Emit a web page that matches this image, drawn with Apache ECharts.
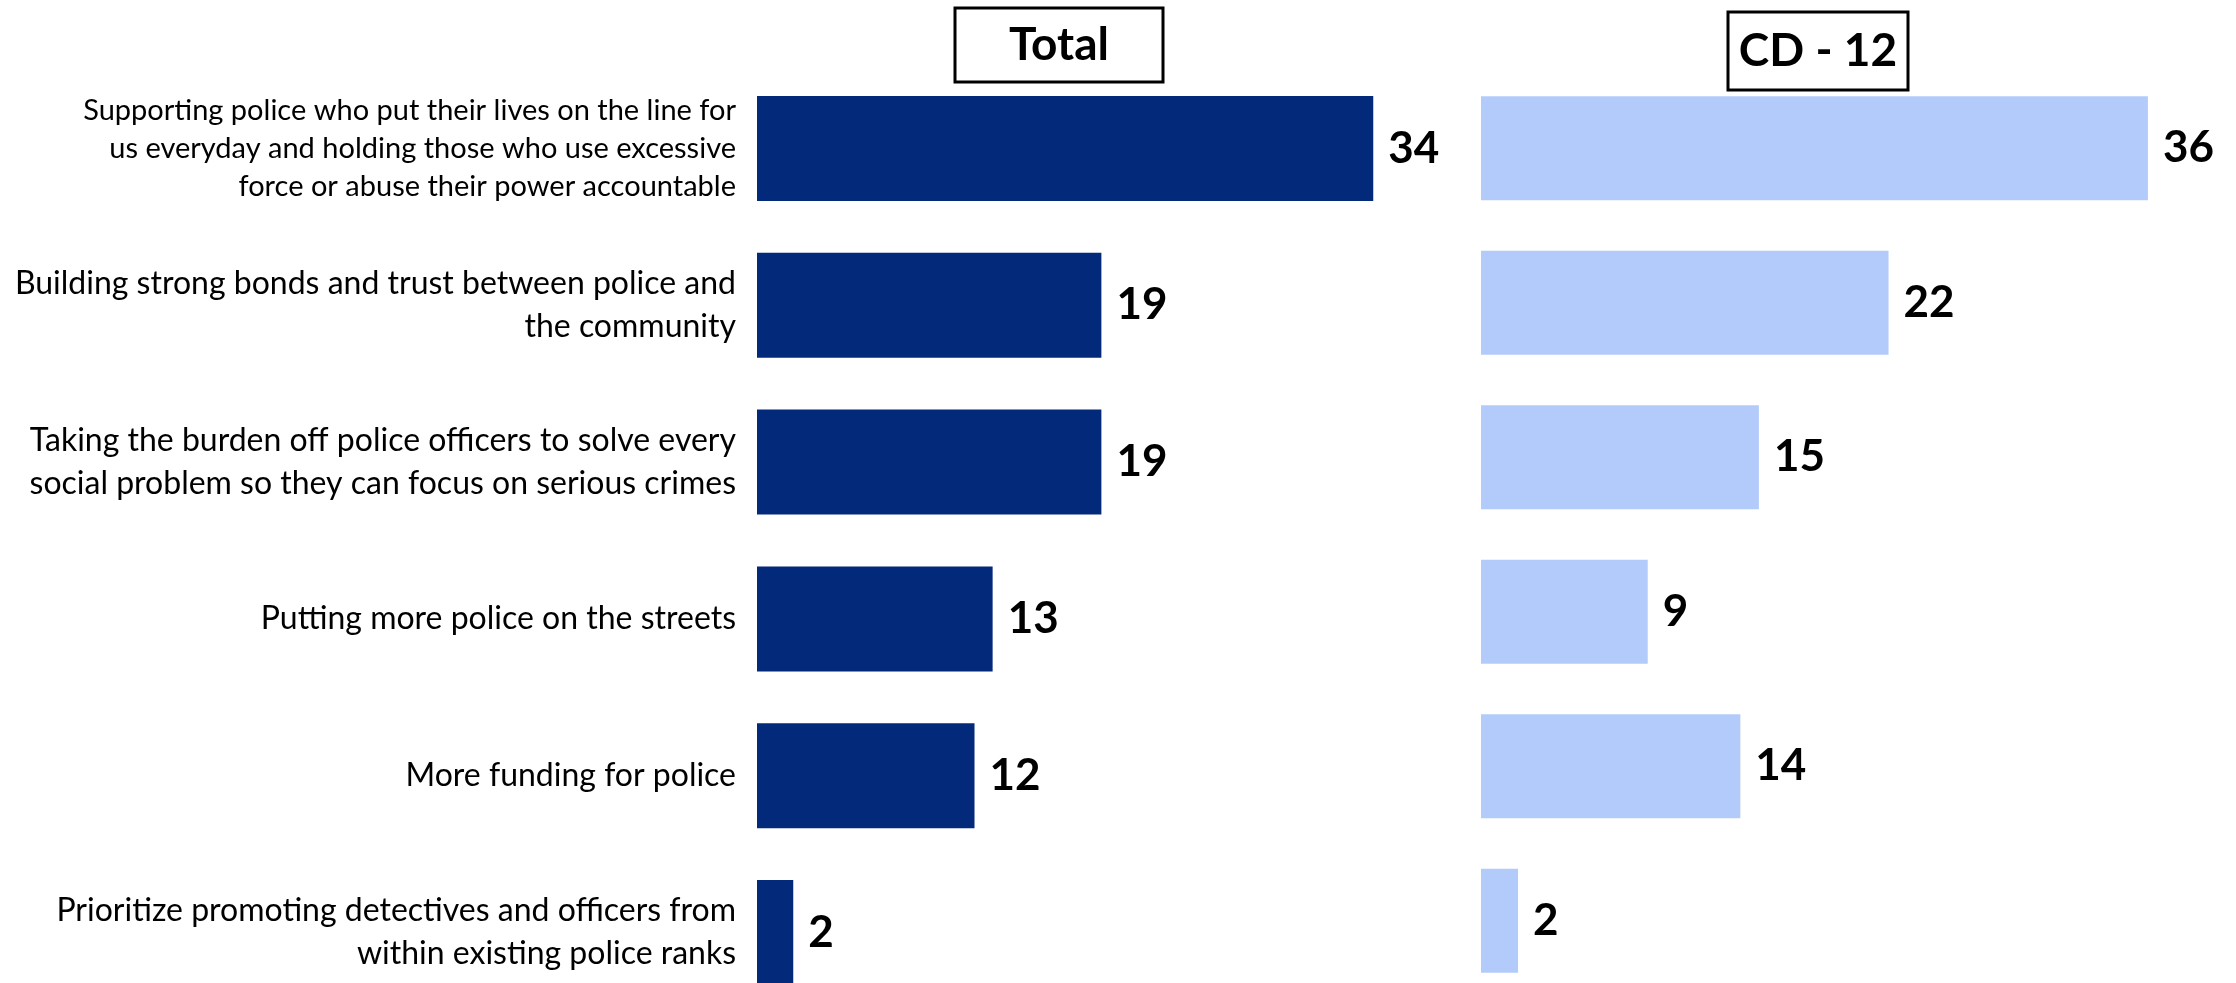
<!DOCTYPE html>
<html>
<head>
<meta charset="utf-8">
<script src="https://cdn.jsdelivr.net/npm/echarts@6/dist/echarts.min.js"></script>
<style>
html,body{margin:0;padding:0;background:#fff;}
#chart{width:2236px;height:983px;}
</style>
</head>
<body>
<div id="chart"></div>
<script>
const categories = [
  'Supporting police who put their lives on the line for\nus everyday and holding those who use excessive\nforce or abuse their power accountable',
  'Building strong bonds and trust between police and\nthe community',
  'Taking the burden off police officers to solve every\nsocial problem so they can focus on serious crimes',
  'Putting more police on the streets',
  'More funding for police',
  'Prioritize promoting detectives and officers from\nwithin existing police ranks'
];
const panelTitles = ['Total', 'CD - 12'];
const totalValues = [34, 19, 19, 13, 12, 2];
const cd12Values = [36, 22, 15, 9, 14, 2];

const FONT = 'Lato, "Open Sans", sans-serif';
const chart = echarts.init(document.getElementById('chart'), null, {renderer: 'canvas'});

const valueLabel = {
  show: true, position: 'right', distance: 15,
  fontFamily: FONT, fontWeight: 'bold', fontSize: 44, color: '#000'
};

// first (three-line) label is set slightly smaller in the original
const categoryItems = categories.map((c, i) =>
  i === 0 ? {value: c, textStyle: {fontSize: 29, lineHeight: 38}} : c);

chart.setOption({
  animation: false,
  backgroundColor: '#fff',
  grid: [
    {left: 757, top: 70, width: 725, height: 941, containLabel: false, outerBoundsMode: 'none'},
    {left: 1481, top: 71, width: 741, height: 927, containLabel: false, outerBoundsMode: 'none'}
  ],
  xAxis: [
    {gridIndex: 0, type: 'value', min: 0, max: 40, show: false},
    {gridIndex: 1, type: 'value', min: 0, max: 40, show: false}
  ],
  yAxis: [
    {gridIndex: 0, type: 'category', data: categoryItems, inverse: true,
     axisLine: {show: false}, axisTick: {show: false}, splitLine: {show: false},
     axisLabel: {margin: 21, fontFamily: FONT, fontSize: 32, lineHeight: 43, color: '#000', align: 'right'}},
    {gridIndex: 1, type: 'category', data: categories, inverse: true, show: false}
  ],
  series: [
    {type: 'bar', xAxisIndex: 0, yAxisIndex: 0, data: totalValues, barWidth: 105,
     itemStyle: {color: '#03297A'}, label: valueLabel},
    {type: 'bar', xAxisIndex: 1, yAxisIndex: 1, data: cd12Values, barWidth: 104,
     itemStyle: {color: '#B3CBFA'}, label: valueLabel}
  ],
  graphic: [
    {type: 'rect', shape: {x: 955, y: 8, width: 208, height: 74},
     style: {fill: '#fff', stroke: '#000', lineWidth: 3}},
    {type: 'text', x: 1059, y: 45,
     style: {text: panelTitles[0], fontFamily: FONT, fontWeight: 'bold', fontSize: 46, fill: '#000', align: 'center', verticalAlign: 'middle'}},
    {type: 'rect', shape: {x: 1728, y: 12, width: 180, height: 78},
     style: {fill: '#fff', stroke: '#000', lineWidth: 3}},
    {type: 'text', x: 1818, y: 51,
     style: {text: panelTitles[1], fontFamily: FONT, fontWeight: 'bold', fontSize: 46, fill: '#000', align: 'center', verticalAlign: 'middle'}}
  ]
});
</script>
</body>
</html>
